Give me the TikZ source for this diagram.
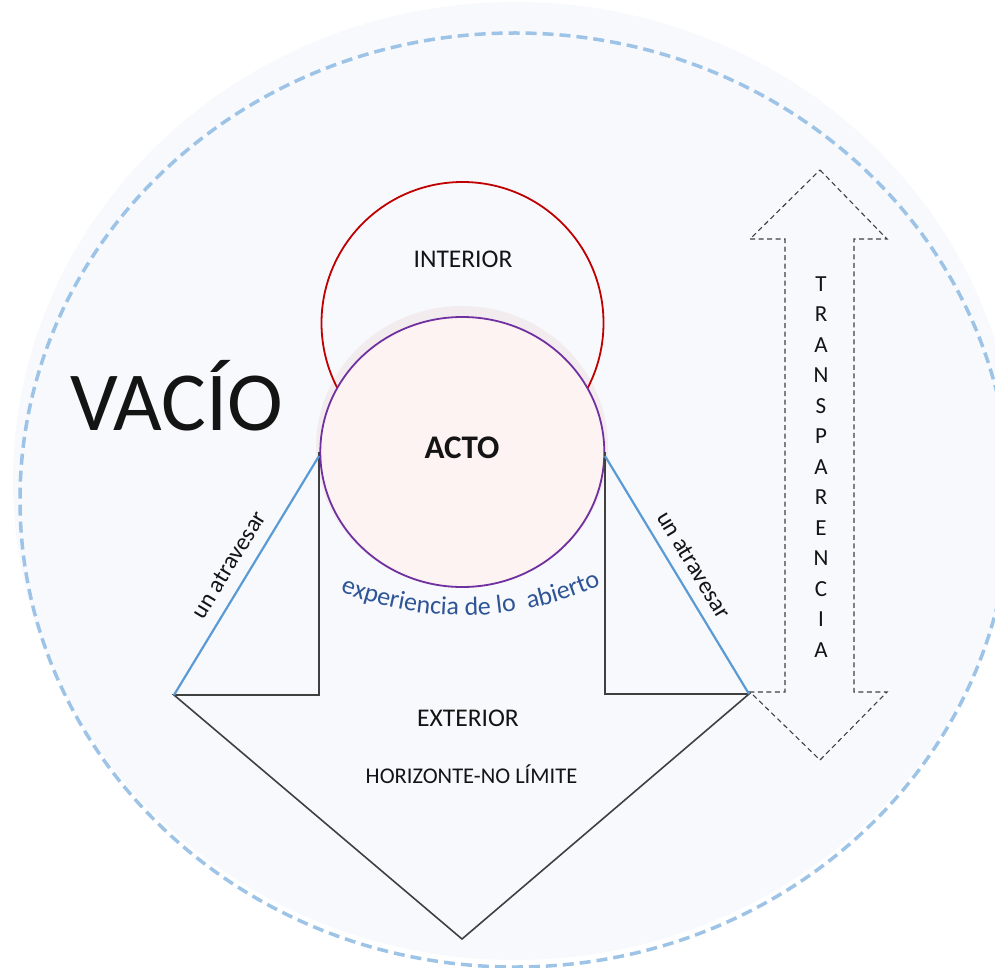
\documentclass[tikz,border=0pt]{standalone}
\usepackage{fontspec}
\setmainfont{Carlito}
\usetikzlibrary{decorations.text,shapes.geometric}
\definecolor{bgfill}{RGB}{247,249,253}
\definecolor{dashblue}{RGB}{157,195,230}
\definecolor{redc}{RGB}{192,0,0}
\definecolor{purc}{RGB}{112,48,160}
\definecolor{actofill}{RGB}{253,243,242}
\definecolor{glowc}{RGB}{243,236,239}
\definecolor{lineblue}{RGB}{91,155,213}
\definecolor{darkline}{RGB}{64,64,64}
\definecolor{textblue}{RGB}{47,85,151}
\definecolor{txt}{RGB}{20,20,20}
\tikzset{
  lbl/.style={text=txt, inner sep=0pt},
  blueline/.style={lineblue, line width=2.2pt},
  frameline/.style={darkline, line width=1.6pt, line join=miter},
  dashedarrow/.style={darkline, line width=1.1pt, dash pattern=on 5pt off 3.5pt},
  slopelbl/.style={sloped, text=txt, font=\fontsize{24}{24}\selectfont, inner sep=2pt}
}
\begin{document}
\begin{tikzpicture}[x=1pt,y=-1pt]
\useasboundingbox (0,0) rectangle (995,968);
\clip (0,0) rectangle (995,968);
% background
\fill[bgfill] (515,481) ellipse [x radius=502, y radius=479];
\draw[dashblue, line width=3.5pt, dash pattern=on 11pt off 6pt] (515,500) ellipse [x radius=495, y radius=467];
% glow behind ACTO
\fill[glowc] (462,447) ellipse [x radius=146, y radius=141];
% interior circle
\node[circle, draw=redc, line width=1.8pt, minimum size=282pt, inner sep=0pt] (interior) at (462.5,323) {};
% acto ellipse
\node[ellipse, draw=purc, fill=actofill, line width=1.8pt, minimum width=284pt, minimum height=270pt, inner sep=0pt] (acto) at (462.3,452) {};
% texts
\node[lbl, anchor=base, font=\fontsize{25.5}{25}\selectfont] (interiortxt) at (463,267) {INTERIOR};
\node[lbl, anchor=base, font=\fontsize{33}{33}\selectfont\bfseries] (actotxt) at (462,458) {ACTO};
\node[lbl, anchor=base west, font=\fontsize{84}{84}\selectfont] (vacio) at (70,430) {VACÍO};
\node[lbl, anchor=base, font=\fontsize{25.5}{25}\selectfont] (exterior) at (468,726) {EXTERIOR};
\node[lbl, anchor=base, font=\fontsize{22.5}{22}\selectfont] (horiz) at (471.5,783) {HORIZONTE-NO LÍMITE};
% frame polygon
\coordinate (lt) at (319,452);
\coordinate (lb) at (319,695);
\coordinate (lc) at (174,695);
\coordinate (tip) at (462,939);
\coordinate (rc) at (749,694);
\coordinate (rb) at (605,694);
\coordinate (rt) at (605,452);
\coordinate (lbt) at (319,456);
\coordinate (rbt) at (605,456);
\draw[frameline] (lt) -- (lb) -- (lc) -- (tip) -- (rc) -- (rb) -- (rt);
\draw[blueline] (lc) -- (lbt) node[slopelbl, midway, above=10pt] {un atravesar};
\draw[blueline] (rbt) -- (rc) node[slopelbl, midway, above=9pt] {un atravesar};
% curved text
\path[decorate, decoration={text along path, text align=center, text color=textblue,
  text={|\fontsize{26}{26}\selectfont|experiencia de lo {\ }abierto}}]
  (341,592) .. controls (425,625) and (515,623) .. (600,586);
% transparency double arrow
\coordinate (at) at (820,170);
\coordinate (ab) at (820,760);
\draw[dashedarrow] (at) -- (887,239) -- (854,239) -- (854,692) -- (887,692) -- (ab)
  -- (750,692) -- (785,692) -- (785,239) -- (750,239) -- cycle;
\node[lbl, align=center, font=\fontsize{23}{30.5}\selectfont] (transp) at (821,467)
  {T\\R\\A\\N\\S\\P\\A\\R\\E\\N\\C\\I\\A};
\end{tikzpicture}
\end{document}
